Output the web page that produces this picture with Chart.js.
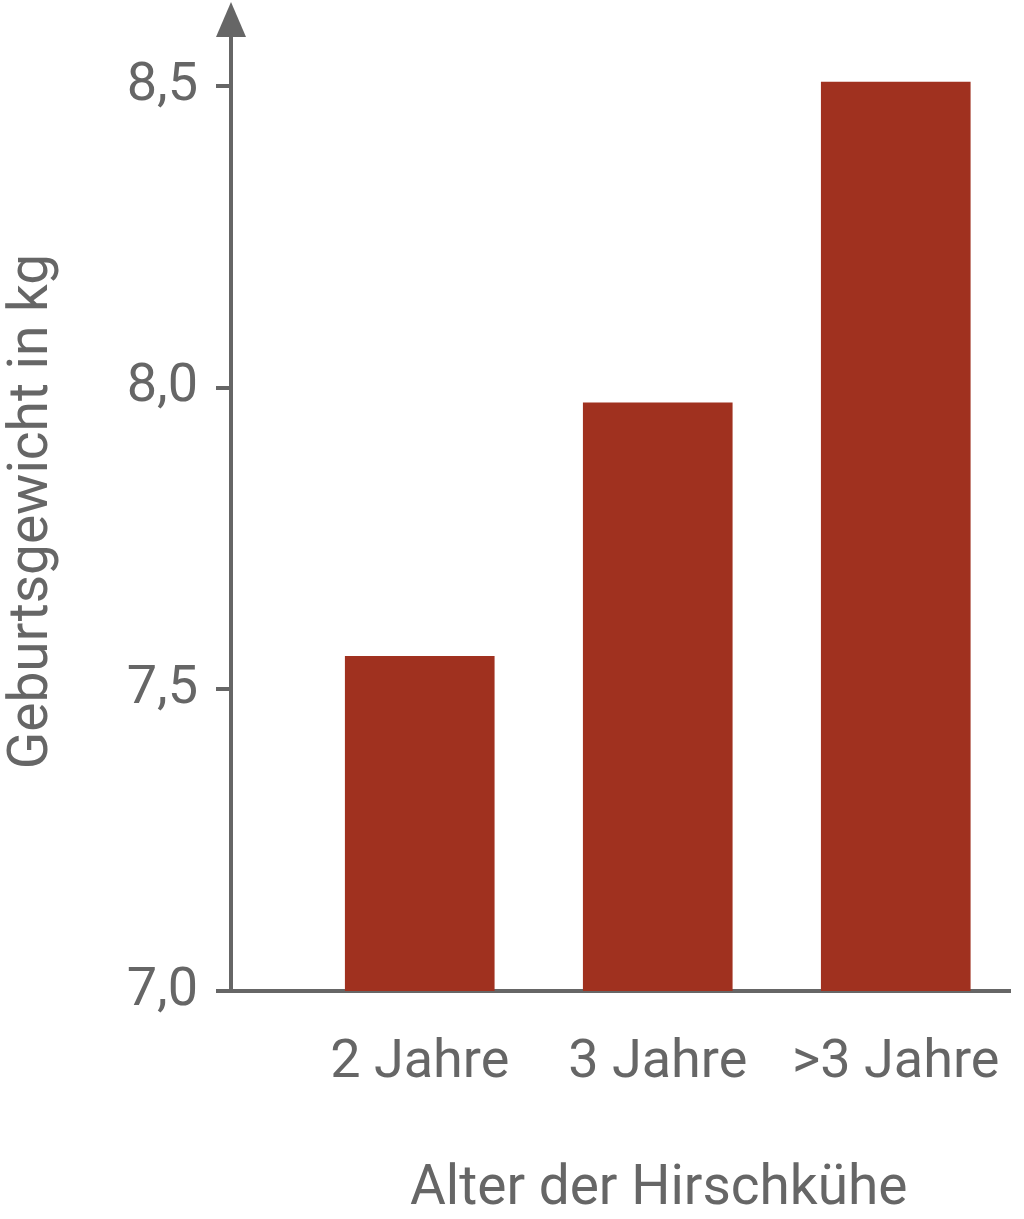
<!DOCTYPE html>
<html>
<head>
<meta charset="utf-8">
<script src="https://cdn.jsdelivr.net/npm/chart.js@4/dist/chart.umd.min.js"></script>
<style>
  html, body { margin: 0; padding: 0; background: #fff; }
  #wrap { width: 1024px; height: 1219px; position: relative; }
</style>
</head>
<body>
<div id="wrap"><canvas id="myChart"></canvas></div>
<script>
const categories = ["2 Jahre", "3 Jahre", ">3 Jahre"];
const weights = [7.555, 7.975, 8.507];
const yTicks = [7.0, 7.5, 8.0, 8.5];

const xTitle = "Alter der Hirschkühe";
const yTitle = "Geburtsgewicht in kg";

const grey = "#666666";
const barColor = "#A0311F";
const fontFamily = "Roboto";

// arrow head on top of the y axis, x axis title centred under the bars
const axisExtras = {
    id: "axisExtras",
    afterDraw(chart) {
        const { ctx, chartArea, scales } = chart;
        const x0 = chartArea.left;
        ctx.save();
        ctx.strokeStyle = grey;
        ctx.lineWidth = 4;
        ctx.beginPath();
        ctx.moveTo(x0, chartArea.top + 1);
        ctx.lineTo(x0, 20);
        ctx.stroke();
        ctx.fillStyle = grey;
        ctx.beginPath();
        ctx.moveTo(x0, 2);
        ctx.lineTo(x0 - 15, 37);
        ctx.lineTo(x0 + 15, 37);
        ctx.closePath();
        ctx.fill();

        ctx.font = "55px " + fontFamily;
        ctx.textAlign = "center";
        ctx.textBaseline = "alphabetic";
        ctx.fillText(xTitle, scales.x.getPixelForValue(1) + 1, 1204);
        ctx.restore();
    },
};

const data = {
    datasets: [
        {
            data: categories.map((c, i) => ({ x: i, y: weights[i] })),
            backgroundColor: barColor,
            borderWidth: 0,
            barThickness: 149,
        },
    ],
};

const config = {
    type: "bar",
    data: data,
    options: {
        responsive: true,
        maintainAspectRatio: false,
        animation: false,
        layout: { padding: { top: 32, right: 14, left: 0, bottom: 0 } },
        plugins: {
            legend: { display: false },
            tooltip: { enabled: false },
        },
        scales: {
            x: {
                type: "linear",
                min: -0.793,
                max: 2.48,
                offset: false,
                afterBuildTicks: (scale) => {
                    scale.ticks = categories.map((c, i) => ({ value: i }));
                },
                afterFit: (scale) => {
                    scale.height = 228;
                    scale.paddingLeft = 0;
                    scale.paddingRight = 0;
                },
                grid: { display: false, offset: false },
                border: { display: true, color: grey, width: 4 },
                ticks: {
                    color: grey,
                    padding: 32,
                    maxRotation: 0,
                    autoSkip: false,
                    font: { family: fontFamily, size: 54 },
                    callback: (v) => categories[v],
                },
            },
            y: {
                min: 7.0,
                max: 8.59,
                afterBuildTicks: (scale) => {
                    scale.ticks = yTicks.map((v) => ({ value: v }));
                },
                afterFit: (scale) => {
                    scale.width = 231;
                    scale.paddingTop = 0;
                    scale.paddingBottom = 0;
                },
                grid: {
                    drawOnChartArea: false,
                    drawTicks: true,
                    tickLength: 15,
                    color: grey,
                    lineWidth: 4,
                },
                border: { display: true, color: grey, width: 4 },
                ticks: {
                    color: grey,
                    padding: 18,
                    font: { family: fontFamily, size: 54 },
                    callback: (v) => v.toFixed(1).replace(".", ","),
                },
                title: {
                    display: true,
                    text: yTitle,
                    color: grey,
                    padding: 0,
                    font: { family: fontFamily, size: 55 },
                },
            },
        },
    },
    plugins: [axisExtras],
};

new Chart(document.getElementById("myChart"), config);
</script>
</body>
</html>
